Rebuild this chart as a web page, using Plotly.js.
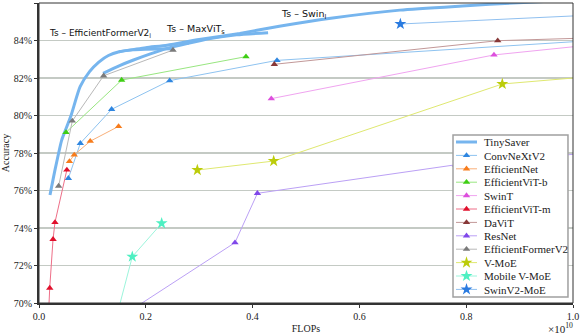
<!DOCTYPE html>
<html>
<head>
<meta charset="utf-8">
<script src="https://cdn.plot.ly/plotly-3.0.1.min.js"></script>
<style>
  html, body { margin: 0; padding: 0; background: #fff; }
  #chart { width: 581px; height: 334px; }
</style>
</head>
<body>
<div id="chart"></div>
<script>
// FLOPs in units of 1e10, accuracy in %

// TinySaver curves
const tsEffFormerX = [0.0206, 0.030, 0.0425, 0.050, 0.060, 0.077, 0.095, 0.112, 0.130, 0.150, 0.175, 0.200, 0.250];
const tsEffFormerY = [75.76, 77.10, 78.69, 79.25, 80.00, 81.54, 82.35, 82.85, 83.20, 83.40, 83.50, 83.53, 83.56];
const tsMaxVitX = [0.120, 0.150, 0.177, 0.210, 0.240, 0.280, 0.320, 0.370, 0.429];
const tsMaxVitY = [82.25, 82.65, 82.96, 83.30, 83.58, 83.85, 84.10, 84.30, 84.42];
const tsSwinX = [0.150, 0.200, 0.240, 0.300, 0.376, 0.450, 0.550, 0.676, 0.800, 0.888, 1.000, 1.200];
const tsSwinY = [83.40, 83.62, 83.75, 84.05, 84.38, 84.76, 85.20, 85.62, 85.85, 86.00, 86.15, 86.35];

// baseline model families
const convnextX = [0.055, 0.0774, 0.136, 0.2447, 0.4457, 1.54];
const convnextY = [76.65, 78.52, 80.33, 81.86, 82.94, 84.90];
const effnetX = [0.057, 0.066, 0.096, 0.149];
const effnetY = [77.55, 77.90, 78.63, 79.42];
const effvitbX = [0.0506, 0.1548, 0.3876];
const effvitbY = [79.10, 81.89, 83.14];
const swinX = [0.435, 0.852, 1.54];
const swinY = [80.90, 83.23, 85.25];
const effvitmX = [0.0079, 0.0167, 0.0201, 0.0263, 0.0299, 0.0522];
const effvitmY = [63.2, 68.4, 70.8, 73.4, 74.3, 77.1];
const davitX = [0.4407, 0.859, 1.55];
const davitY = [82.73, 83.99, 84.58];
const resnetX = [0.18, 0.367, 0.409, 0.78, 1.15];
const resnetY = [69.76, 73.22, 75.85, 77.37, 78.31];
const effformerX = [0.0368, 0.0624, 0.121, 0.251];
const effformerY = [76.24, 79.71, 82.12, 83.49];
const vmoeX = [0.2965, 0.4395, 0.8676, 1.50];
const vmoeY = [77.09, 77.57, 81.68, 83.20];
const mvmoeX = [0.140, 0.1747, 0.2297];
const mvmoeY = [68.70, 72.47, 74.25];
const swinv2moeX = [0.6767, 1.40];
const swinv2moeY = [84.88, 85.84];

const tsColor = "#76b5ee";

function ts(x, y, show) {
  return {
    x: x, y: y, type: "scatter", mode: "lines",
    line: { color: tsColor, width: 3, shape: "spline", smoothing: 0.6 },
    name: "TinySaver", legendgroup: "ts", showlegend: show
  };
}

function family(name, x, y, color, lineColor, symbol) {
  const star = symbol === "star";
  return {
    x: x, y: y, type: "scatter", mode: "lines+markers", name: name,
    line: { color: lineColor, width: 1 },
    marker: { color: color, symbol: symbol, size: star ? 9 : 6.5 }
  };
}

const traces = [
  ts(tsEffFormerX, tsEffFormerY, true),
  ts(tsMaxVitX, tsMaxVitY, false),
  ts(tsSwinX, tsSwinY, false),
  family("ConvNeXtV2", convnextX, convnextY, "#2f86e0", "#8ec3f0", "triangle-up"),
  family("EfficientNet", effnetX, effnetY, "#f77c1c", "#f9b07a", "triangle-up"),
  family("EfficientViT-b", effvitbX, effvitbY, "#3fce14", "#98e680", "triangle-up"),
  family("SwinT", swinX, swinY, "#dd4fdd", "#f0a4f0", "triangle-up"),
  family("EfficientViT-m", effvitmX, effvitmY, "#e0102c", "#ee6f88", "triangle-up"),
  family("DaViT", davitX, davitY, "#873838", "#c29898", "triangle-up"),
  family("ResNet", resnetX, resnetY, "#8048ea", "#bba0f5", "triangle-up"),
  family("EfficientFormerV2", effformerX, effformerY, "#7a7a7a", "#b8b8b8", "triangle-up"),
  family("V-MoE", vmoeX, vmoeY, "#bccc0a", "#dfe870", "star"),
  family("Mobile V-MoE", mvmoeX, mvmoeY, "#4ef0c2", "#9cf5dc", "star"),
  family("SwinV2-MoE", swinv2moeX, swinv2moeY, "#2a7be0", "#90c0f0", "star")
];

const serif = "Liberation Serif, DejaVu Serif, serif";
const sans = "DejaVu Sans, sans-serif";

const layout = {
  width: 581, height: 334,
  margin: { l: 39, r: 8, t: 3, b: 31 },
  paper_bgcolor: "#fff",
  plot_bgcolor: "#fff",
  font: { family: serif, size: 10, color: "#222" },
  showlegend: true,
  xaxis: {
    range: [0, 1], dtick: 0.2, tickformat: ".1f",
    showgrid: false, zeroline: false,
    showline: true, linecolor: "#333", linewidth: 2,
    ticks: "outside", ticklen: 3, tickcolor: "#333",
    title: { text: "FLOPs", font: { family: serif, size: 10 }, standoff: 6 }
  },
  yaxis: {
    range: [70, 86], dtick: 2, ticksuffix: "%",
    showgrid: true, gridcolor: "#c4cac4", gridwidth: 1.6, zeroline: false,
    showline: true, linecolor: "#333", linewidth: 2,
    ticks: "outside", ticklen: 3, tickcolor: "#333",
    title: { text: "Accuracy", font: { family: serif, size: 10 }, standoff: 6 }
  },
  shapes: [
    // plot frame
    { type: "rect", xref: "paper", yref: "paper", x0: 0, x1: 1, y0: 0, y1: 1,
      line: { color: "#333", width: 1 }, layer: "above" },
    // legend box
    { type: "rect", xref: "paper", yref: "paper", x0: 0.7753, x1: 0.9906, y0: 0.02, y1: 0.56,
      fillcolor: "#ffffff", opacity: 1, line: { color: "#a0a0a0", width: 1.5 }, layer: "above" }
  ],
  legend: {
    x: 0.99, y: 0.02, xanchor: "right", yanchor: "bottom",
    bgcolor: "rgba(0,0,0,0)", borderwidth: 0,
    font: { family: serif, size: 11, color: "#222" },
    tracegroupgap: 0
  },
  annotations: [
    { x: 0.015, y: 84.35, xanchor: "left", yanchor: "middle", showarrow: false,
      text: "Ts – EfficientFormerV2<sub>l</sub>", font: { family: sans, size: 9, color: "#111" } },
    { x: 0.234, y: 84.6, xanchor: "left", yanchor: "middle", showarrow: false,
      text: "Ts – MaxViT<sub>s</sub>", font: { family: sans, size: 9.5, color: "#111" } },
    { x: 0.45, y: 85.41, xanchor: "left", yanchor: "middle", showarrow: false,
      text: "Ts – Swin<sub>l</sub>", font: { family: sans, size: 9.5, color: "#111" } },
    { x: 1.003, y: -0.082, xref: "paper", yref: "paper", xanchor: "right", yanchor: "middle",
      showarrow: false, text: "×10<sup>10</sup>", font: { family: serif, size: 11, color: "#222" } }
  ]
};

// compact the legend rows to the spacing of the reference figure
function tidyLegend() {
  const leg = document.querySelector("#chart g.legend");
  if (!leg) return;
  const rowH = 13.4, top = 7;
  leg.querySelectorAll("g.traces").forEach((g, i) => {
    g.setAttribute("transform", "translate(0," + (top + i * rowH) + ")");
    g.querySelectorAll(".legendlines path").forEach(p => p.setAttribute("d", "M3,0h21"));
    g.querySelectorAll(".legendpoints path").forEach(p => p.setAttribute("transform", "translate(13.5,0)"));
    const t = g.querySelector("text.legendtext");
    if (t) t.setAttribute("x", 31);
  });
  leg.setAttribute("transform", "translate(453,135)");
}

Plotly.newPlot("chart", traces, layout, { displayModeBar: false, staticPlot: true }).then(tidyLegend);
</script>
</body>
</html>
